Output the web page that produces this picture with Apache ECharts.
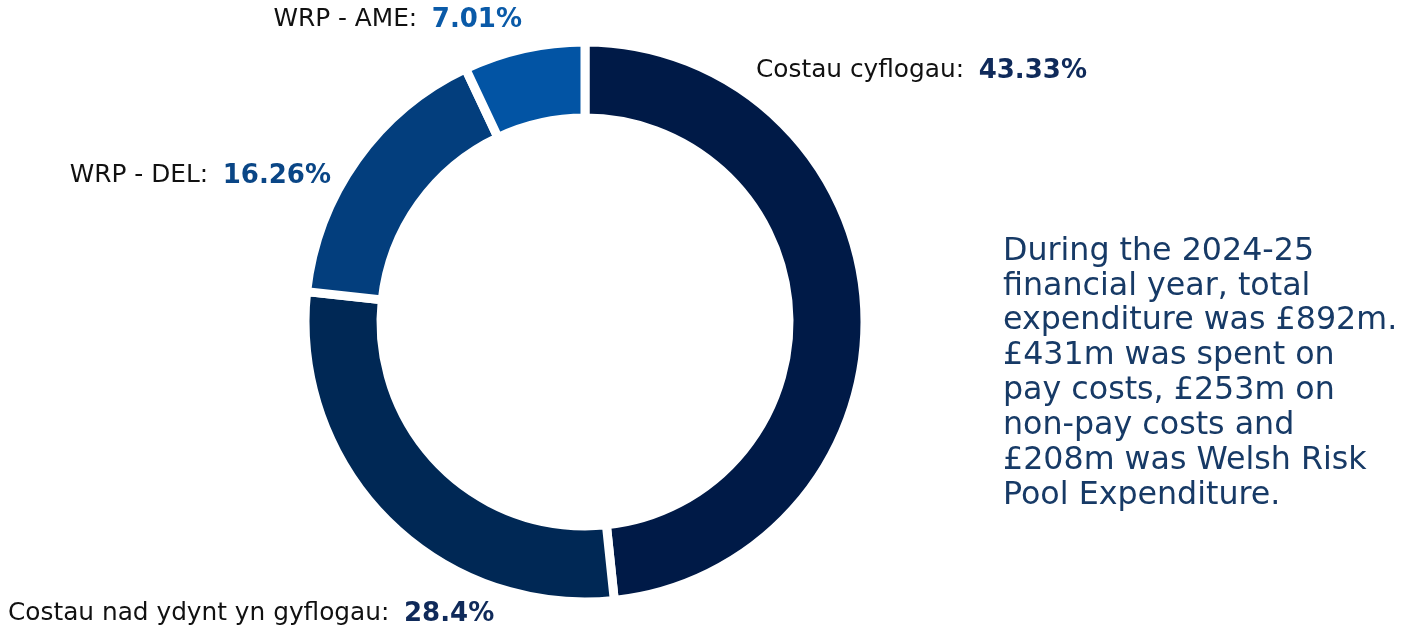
<!DOCTYPE html>
<html><head><meta charset="utf-8">
<script src="https://cdn.jsdelivr.net/npm/echarts@6/dist/echarts.min.js"></script>
<style>html,body{margin:0;padding:0;background:#fff}#c{width:1416px;height:635px}</style>
</head><body><div id="c"></div>
<script>
const categories = ['Costau cyflogau', 'Costau nad ydynt yn gyflogau', 'WRP - DEL', 'WRP - AME'];
const values = [48.33, 28.40, 16.26, 7.01];
const shownPercents = ['43.33%', '28.4%', '16.26%', '7.01%'];
const colors = ['#001a47', '#002855', '#033e7d', '#0254a4'];
const noteLines = [
  'During the 2024-25',
  'financial year, total',
  'expenditure was £892m.',
  '£431m was spent on',
  'pay costs, £253m on',
  'non-pay costs and',
  '£208m was Welsh Risk',
  'Pool Expenditure.'
];

const FONT = 'DejaVu Sans';
const labelPos = [
  {x: 756, y: 71, align: 'left'},
  {x: 8, y: 614, align: 'left'},
  {x: 331, y: 176, align: 'right'},
  {x: 522, y: 20, align: 'right'}
];

const pctStyle = c => ({fontFamily: FONT, fontSize: 26, fontWeight: 'bold', color: c, padding: [0, 0, 0, 7]});

const chart = echarts.init(document.getElementById('c'));
chart.setOption({
  animation: false,
  backgroundColor: '#ffffff',
  series: [{
    type: 'pie',
    center: [585, 322],
    radius: [204, 280],
    startAngle: 90,
    clockwise: true,
    avoidLabelOverlap: false,
    itemStyle: {borderColor: '#ffffff', borderWidth: 9},
    label: {
      show: true,
      position: 'outside',
      fontFamily: FONT,
      formatter: p => '{n|' + p.name + ':}  {p' + p.dataIndex + '|' + shownPercents[p.dataIndex] + '}',
      rich: {
        n: {fontFamily: FONT, fontSize: 24.8, color: '#111111'},
        p0: pctStyle('#0f2a5a'),
        p1: pctStyle('#0f2a5a'),
        p2: pctStyle('#0a4686'),
        p3: pctStyle('#0a5aa8')
      }
    },
    labelLine: {show: false},
    labelLayout: function (params) {
      const lp = labelPos[params.dataIndex];
      return {x: lp.x, y: lp.y, align: lp.align, verticalAlign: 'middle', hideOverlap: false};
    },
    data: categories.map((c, i) => ({name: c, value: values[i], itemStyle: {color: colors[i]}}))
  }],
  graphic: [{
    type: 'text',
    left: 1003,
    top: 234,
    style: {
      text: noteLines.join('\n'),
      fontFamily: FONT,
      fontSize: 31.7,
      lineHeight: 34.9,
      fill: '#173a66'
    }
  }]
});
</script></body></html>
